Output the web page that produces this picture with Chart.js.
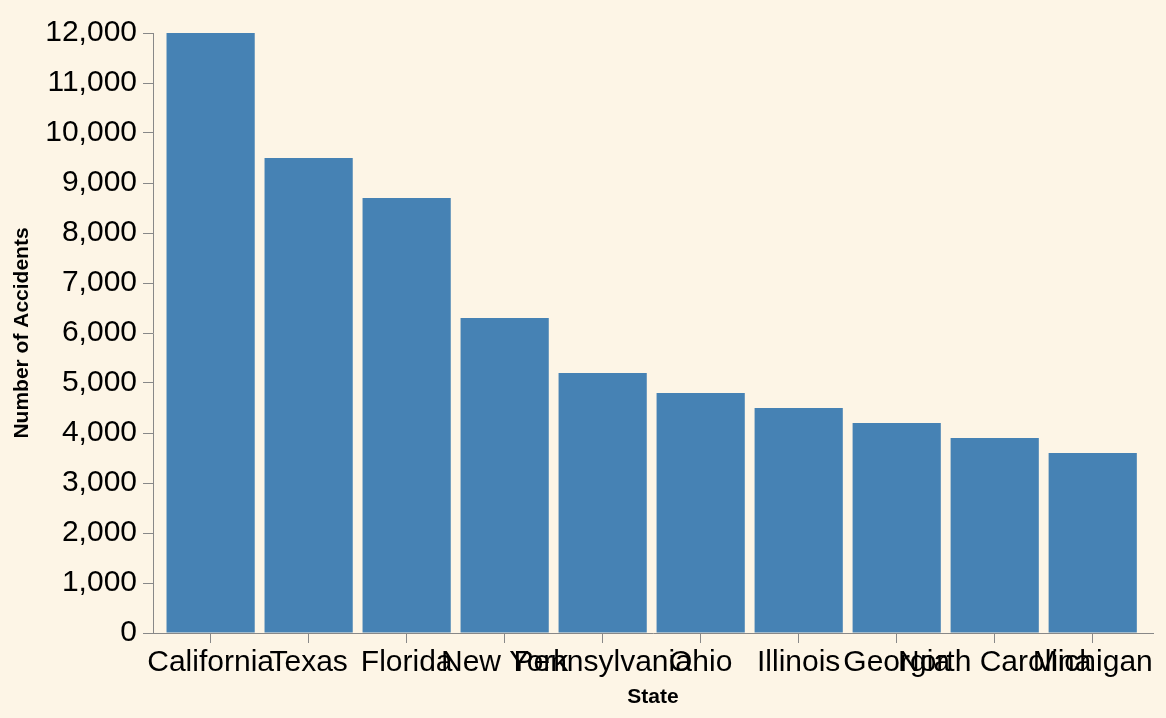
<!DOCTYPE html>
<html>
<head>
<meta charset="utf-8">
<script src="https://cdn.jsdelivr.net/npm/chart.js@4"></script>
<style>
  html, body { margin: 0; padding: 0; background: #FDF5E6; }
  #c { display: block; }
</style>
</head>
<body>
<canvas id="c" width="1166" height="718"></canvas>
<script>
const states = ["California", "Texas", "Florida", "New York", "Pennsylvania", "Ohio", "Illinois", "Georgia", "North Carolina", "Michigan"];
const accidents = [12000, 9500, 8700, 6300, 5200, 4800, 4500, 4200, 3900, 3600];
const yTicks = [0, 1000, 2000, 3000, 4000, 5000, 6000, 7000, 8000, 9000, 10000, 11000, 12000];

const bgPlugin = {
  id: 'bg',
  beforeDraw(chart) {
    const ctx = chart.ctx;
    ctx.save();
    ctx.fillStyle = '#FDF5E6';
    ctx.fillRect(0, 0, chart.width, chart.height);
    ctx.restore();
  }
};

const FONT = "'Liberation Sans', Arial, sans-serif";

new Chart(document.getElementById('c'), {
  type: 'bar',
  data: {
    datasets: [{
      label: 'Number of Accidents',
      data: accidents.map((v, i) => ({ x: i, y: v })),
      backgroundColor: '#4682b4',
      borderWidth: 0,
      categoryPercentage: 0.9,
      barPercentage: 1.0
    }]
  },
  options: {
    responsive: false,
    animation: false,
    devicePixelRatio: 1,
    locale: 'en-US',
    layout: { padding: { top: 33, right: 13, left: 0, bottom: 0 } },
    plugins: { legend: { display: false }, tooltip: { enabled: false } },
    scales: {
      x: {
        type: 'linear',
        offset: false,
        min: -0.588,
        max: 9.615,
        afterBuildTicks(scale) {
          scale.ticks = states.map((_, i) => ({ value: i }));
        },
        afterFit(scale) { scale.height = 85; },
        ticks: {
          stepSize: 1,
          maxTicksLimit: 20,
          includeBounds: false,
          autoSkip: false,
          maxRotation: 0,
          minRotation: 0,
          padding: 2,
          color: '#000',
          font: { family: FONT, size: 30 },
          callback: (v) => states[v]
        },
        grid: { display: true, offset: false, drawOnChartArea: false, drawTicks: true, tickLength: 10, color: '#888', lineWidth: 1 },
        border: { display: true, color: '#888', width: 1 },
        title: {
          display: true,
          text: 'State',
          color: '#000',
          font: { family: FONT, size: 21, weight: 'bold' },
          padding: { top: 0, bottom: 8 }
        }
      },
      y: {
        min: 0,
        max: 12000,
        afterBuildTicks(scale) {
          scale.ticks = yTicks.map(v => ({ value: v }));
        },
        afterFit(scale) { scale.width = 153; },
        ticks: {
          stepSize: 1000,
          padding: 6,
          color: '#000',
          font: { family: FONT, size: 30 }
        },
        grid: { display: true, drawOnChartArea: false, drawTicks: true, tickLength: 10, color: '#888', lineWidth: 1 },
        border: { display: true, color: '#888', width: 1 },
        title: {
          display: true,
          text: 'Number of Accidents',
          color: '#000',
          font: { family: FONT, size: 21, weight: 'bold' },
          padding: { top: 10, bottom: 0 }
        }
      }
    }
  },
  plugins: [bgPlugin]
});
</script>
</body>
</html>
